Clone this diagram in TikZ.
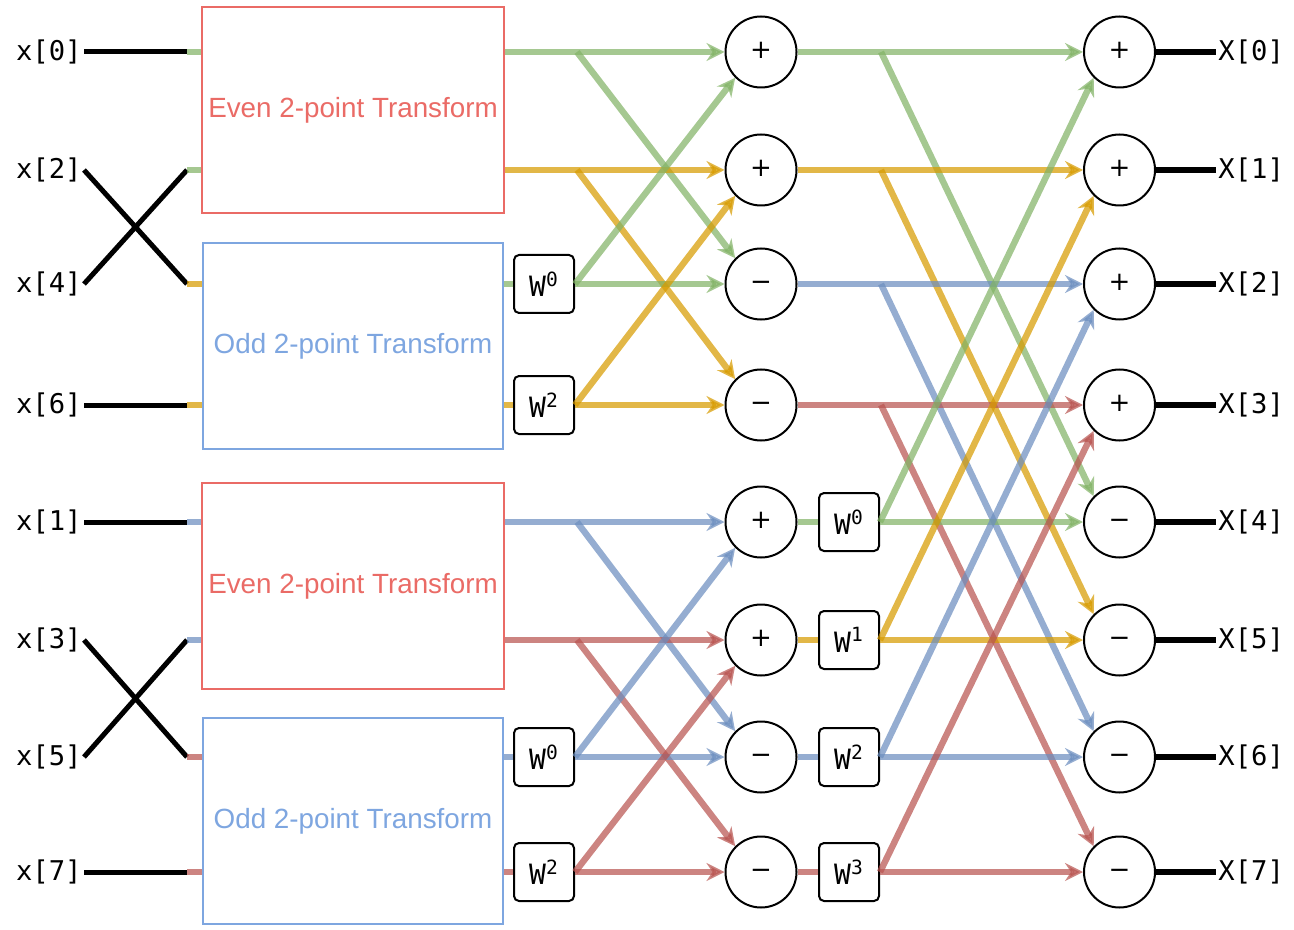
\documentclass[tikz,border=0pt]{standalone}
\usepackage{fontspec}
\setmainfont{Liberation Sans}
\setmonofont{DejaVu Sans Mono}
\newfontfamily\opfont{DejaVu Sans}
\usetikzlibrary{arrows.meta}
\newcount\rowcount

\definecolor{sgreen}{HTML}{82B366}
\definecolor{sorange}{HTML}{D79B00}
\definecolor{sblue}{HTML}{6C8EBF}
\definecolor{sred}{HTML}{B85450}
\definecolor{evenred}{HTML}{EA6B66}
\definecolor{oddblue}{HTML}{7EA6E0}

\tikzset{
  sig/.style={draw=#1,line width=3.2pt,opacity=0.72},
  arr/.style={-{Stealth[length=9pt,width=9pt,inset=3pt]}},
  wire/.style={draw=black,line width=2.5pt},
  sum/.style={draw,circle,line width=1pt,fill=white,minimum size=35.5pt,inner sep=0pt,
    text height=0.68em,text depth=0pt,font=\fontsize{13}{15}\selectfont\opfont},
  wbox/.style={draw,rounded corners=2.5pt,line width=1pt,fill=white,minimum width=30pt,
    minimum height=29pt,inner sep=0pt,font=\fontsize{14}{16}\selectfont\ttfamily},
  lbl/.style={inner sep=1pt,font=\fontsize{13.6}{16}\selectfont\ttfamily},
  evenbox/.style={draw=evenred,line width=1pt,minimum width=150pt,minimum height=103pt,
    text=evenred,font=\fontsize{13.9}{16}\selectfont},
  oddbox/.style={draw=oddblue,line width=1pt,minimum width=150pt,minimum height=103pt,
    text=oddblue,font=\fontsize{13.9}{16}\selectfont}
}

\begin{document}
\begin{tikzpicture}[x=0.5pt,y=-0.5pt]
\useasboundingbox (0,0) rectangle (1294,930);

\node[evenbox] (E1) at (353,110) {Even 2-point Transform};
\node[oddbox] (O1) at (353,346) {Odd 2-point Transform};
\node[evenbox] (E2) at (353,586) {Even 2-point Transform};
\node[oddbox] (O2) at (353,821) {Odd 2-point Transform};

\foreach \r/\y/\k/\a/\b in {0/52/0/+/+,1/170/2/+/+,2/284/4/−/+,3/405/6/−/+,
    4/522/1/+/−,5/640/3/+/−,6/757/5/−/−,7/872/7/−/−}{
  \node[lbl,anchor=east] (x-\r) at (84,\y) {x[\k]};
  \coordinate (P-\r) at (187,\y);
  \node[sum] (S-\r) at (761,\y) {\a};
  \node[sum] (F-\r) at (1119.5,\y) {\b};
  \node[lbl,anchor=west] (X-\r) at (1216,\y) {X[\r]};
  \draw[wire,line width=3pt] (F-\r) -- (X-\r.west);
}

\foreach \a/\b in {0/0,1/2,2/1,3/3,4/4,5/6,6/5,7/7}{
  \draw[wire] (x-\a.east) -- (P-\b);
}

\foreach \r/\c/\bx in {0/sgreen/E1,1/sgreen/E1,2/sorange/O1,3/sorange/O1,
    4/sblue/E2,5/sblue/E2,6/sred/O2,7/sred/O2}{
  \draw[sig=\c] (P-\r) -- (P-\r -| \bx.west);
}

\foreach \r/\c/\bx in {0/sgreen/E1,1/sorange/E1,4/sblue/E2,5/sred/E2}{
  \rowcount=\r
  \advance\rowcount by 2
  \coordinate (J-\r) at (577,0 |- S-\r);
  \draw[sig=\c,arr] (S-\r -| \bx.east) -- (S-\r);
  \draw[sig=\c,arr] (J-\r) -- (S-\the\rowcount.north west);
}

\foreach \r/\c/\bx/\w in {2/sgreen/O1/0,3/sorange/O1/2,6/sblue/O2/0,7/sred/O2/2}{
  \rowcount=\r
  \advance\rowcount by -2
  \node[wbox] (W-\r) at (544,0 |- S-\r) {W\textsuperscript{\w}};
  \draw[sig=\c] (W-\r.west -| \bx.east) -- (W-\r.west);
  \draw[sig=\c,arr] (W-\r.east) -- (S-\r);
  \draw[sig=\c,arr] (W-\r.east) -- (S-\the\rowcount.south west);
}

\foreach \r/\c in {0/sgreen,1/sorange,2/sblue,3/sred}{
  \rowcount=\r
  \advance\rowcount by 4
  \coordinate (K-\r) at (881,0 |- S-\r);
  \draw[sig=\c,arr] (S-\r) -- (F-\r);
  \draw[sig=\c,arr] (K-\r) -- (F-\the\rowcount.north west);
}

\foreach \r/\c/\w in {4/sgreen/0,5/sorange/1,6/sblue/2,7/sred/3}{
  \rowcount=\r
  \advance\rowcount by -4
  \node[wbox] (V-\r) at (849,0 |- S-\r) {W\textsuperscript{\w}};
  \draw[sig=\c] (S-\r) -- (V-\r);
  \draw[sig=\c,arr] (V-\r.east) -- (F-\r);
  \draw[sig=\c,arr] (V-\r.east) -- (F-\the\rowcount.south west);
}
\end{tikzpicture}
\end{document}
